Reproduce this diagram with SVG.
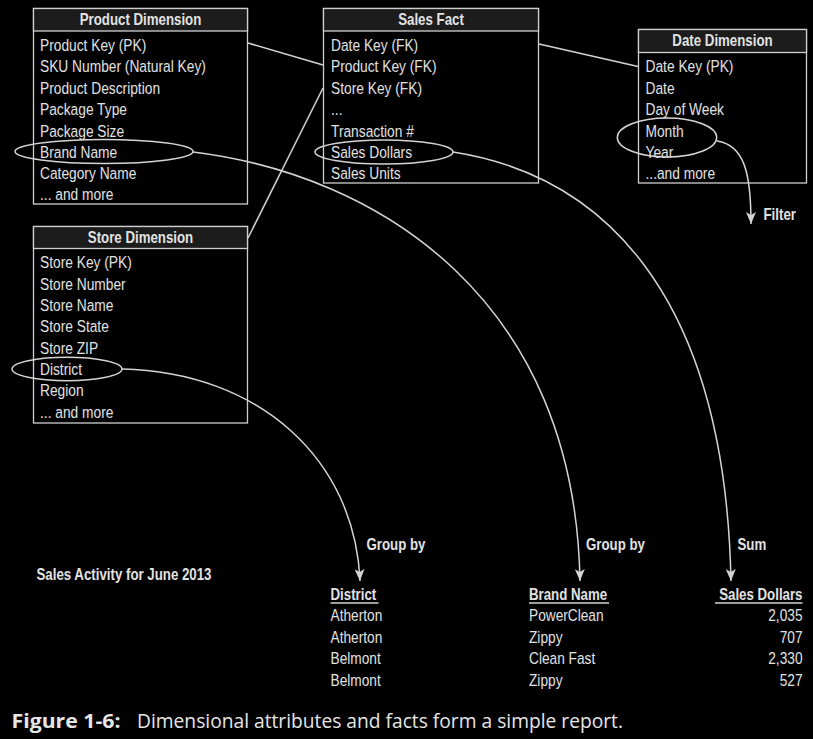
<svg xmlns="http://www.w3.org/2000/svg" width="813" height="739" viewBox="0 0 813 739">
<style>
.bg{fill:#000}
.box{fill:none;stroke:#cfcfcf;stroke-width:1.3}
.hdr{fill:#1c1c1c;stroke:#cfcfcf;stroke-width:1.3}
.t{font-family:"Liberation Sans",Arial,sans-serif;font-size:16.5px;fill:#e2e2e2}
.h{font-family:"Liberation Sans",Arial,sans-serif;font-size:16px;font-weight:bold;fill:#e2e2e2;text-anchor:middle}
.b{font-family:"Liberation Sans",Arial,sans-serif;font-size:16px;font-weight:bold;fill:#e2e2e2}
.ln{fill:none;stroke:#d4d4d4;stroke-width:1.5}
.ell{fill:none;stroke:#d4d4d4;stroke-width:1.5}
.ul{stroke:#d4d4d4;stroke-width:1.3}
.cap{font-family:"Open Sans","Noto Sans",sans-serif;fill:#e6e6e6}
</style>
<defs>
<marker id="arr" markerUnits="userSpaceOnUse" markerWidth="12" markerHeight="10" refX="12" refY="5" orient="auto">
<path d="M0,0 L12,5 L0,10 L3,5 Z" fill="#d4d4d4"/>
</marker>
</defs>
<rect class="bg" x="0" y="0" width="813" height="739"/>

<g id="connectors">
<line class="ln" x1="248" y1="43" x2="323" y2="65"/>
<line class="ln" x1="248" y1="238" x2="323" y2="88"/>
<line class="ln" x1="539" y1="44" x2="638" y2="66.5"/>
<path class="ln" d="M193,152 C380,175 575,300 580,581" marker-end="url(#arr)"/>
<path class="ln" d="M453,152 C600,175 725,290 731,581" marker-end="url(#arr)"/>
<path class="ln" d="M122,369 C260,372 355,460 360,581" marker-end="url(#arr)"/>
<path class="ln" d="M717,141 C745,145 751,175 751,224" marker-end="url(#arr)"/>
</g>

<g id="product-dimension">
<rect class="box" x="33.5" y="8.5" width="214" height="195.5"/>
<rect class="hdr" x="33.5" y="8.5" width="214" height="22.5"/>
<g transform="translate(140.5,0) scale(0.83,1)"><text class="h" x="0" y="25.5">Product Dimension</text></g>
<g transform="translate(40,0) scale(0.834,1)">
<text class="t" x="0" y="51">Product Key (PK)</text>
<text class="t" x="0" y="72.5">SKU Number (Natural Key)</text>
<text class="t" x="0" y="94">Product Description</text>
<text class="t" x="0" y="115">Package Type</text>
<text class="t" x="0" y="137">Package Size</text>
<text class="t" x="0" y="158">Brand Name</text>
<text class="t" x="0" y="179.5">Category Name</text>
<text class="t" x="0" y="200.5">... and more</text>
</g>
<ellipse class="ell" cx="104" cy="151.5" rx="89" ry="12"/>
</g>

<g id="sales-fact">
<rect class="box" x="323.5" y="8.5" width="215" height="174.5"/>
<rect class="hdr" x="323.5" y="8.5" width="215" height="22.5"/>
<g transform="translate(431,0) scale(0.83,1)"><text class="h" x="0" y="25.5">Sales Fact</text></g>
<g transform="translate(331,0) scale(0.834,1)">
<text class="t" x="0" y="51">Date Key (FK)</text>
<text class="t" x="0" y="72.5">Product Key (FK)</text>
<text class="t" x="0" y="94">Store Key (FK)</text>
<text class="t" x="0" y="115">...</text>
<text class="t" x="0" y="137">Transaction #</text>
<text class="t" x="0" y="158">Sales Dollars</text>
<text class="t" x="0" y="179.5">Sales Units</text>
</g>
<ellipse class="ell" cx="384" cy="152" rx="69" ry="12"/>
</g>

<g id="date-dimension">
<rect class="box" x="638.5" y="29.5" width="168" height="153.5"/>
<rect class="hdr" x="638.5" y="29.5" width="168" height="23"/>
<g transform="translate(722.5,0) scale(0.83,1)"><text class="h" x="0" y="46.5">Date Dimension</text></g>
<g transform="translate(645.5,0) scale(0.834,1)">
<text class="t" x="0" y="72.5">Date Key (PK)</text>
<text class="t" x="0" y="94">Date</text>
<text class="t" x="0" y="115">Day of Week</text>
<text class="t" x="0" y="137">Month</text>
<text class="t" x="0" y="158">Year</text>
<text class="t" x="0" y="179.5">...and more</text>
</g>
<ellipse class="ell" cx="667" cy="137.5" rx="49.7" ry="19.5"/>
</g>

<g id="store-dimension">
<rect class="box" x="33.5" y="226.5" width="214" height="196.5"/>
<rect class="hdr" x="33.5" y="226.5" width="214" height="22"/>
<g transform="translate(140.5,0) scale(0.83,1)"><text class="h" x="0" y="243.5">Store Dimension</text></g>
<g transform="translate(40,0) scale(0.834,1)">
<text class="t" x="0" y="268.5">Store Key (PK)</text>
<text class="t" x="0" y="290">Store Number</text>
<text class="t" x="0" y="311">Store Name</text>
<text class="t" x="0" y="332.5">Store State</text>
<text class="t" x="0" y="354">Store ZIP</text>
<text class="t" x="0" y="375">District</text>
<text class="t" x="0" y="396.5">Region</text>
<text class="t" x="0" y="418">... and more</text>
</g>
<ellipse class="ell" cx="67" cy="369" rx="55" ry="11.7"/>
</g>

<g id="labels">
<g transform="translate(763.5,0) scale(0.83,1)"><text class="b" x="0" y="220">Filter</text></g>
<g transform="translate(366.5,0) scale(0.83,1)"><text class="b" x="0" y="550">Group by</text></g>
<g transform="translate(586,0) scale(0.83,1)"><text class="b" x="0" y="550">Group by</text></g>
<g transform="translate(737.5,0) scale(0.83,1)"><text class="b" x="0" y="550">Sum</text></g>
<g transform="translate(36.5,0) scale(0.83,1)"><text class="b" x="0" y="580">Sales Activity for June 2013</text></g>
</g>

<g id="report">
<g transform="translate(330.5,0) scale(0.83,1)">
<text class="b" x="0" y="600">District</text>
<text class="t" x="0" y="621.5">Atherton</text>
<text class="t" x="0" y="643">Atherton</text>
<text class="t" x="0" y="664.5">Belmont</text>
<text class="t" x="0" y="686">Belmont</text>
</g>
<line class="ul" x1="330.5" y1="603" x2="378.5" y2="603"/>
<g transform="translate(529,0) scale(0.83,1)">
<text class="b" x="0" y="600">Brand Name</text>
<text class="t" x="0" y="621.5">PowerClean</text>
<text class="t" x="0" y="643">Zippy</text>
<text class="t" x="0" y="664.5">Clean Fast</text>
<text class="t" x="0" y="686">Zippy</text>
</g>
<line class="ul" x1="529" y1="603" x2="609" y2="603"/>
<g transform="translate(802.5,0) scale(0.83,1)">
<text class="b" x="0" y="600" text-anchor="end" font-size="16.8">Sales Dollars</text>
<text class="t" x="0" y="621.5" text-anchor="end">2,035</text>
<text class="t" x="0" y="643" text-anchor="end">707</text>
<text class="t" x="0" y="664.5" text-anchor="end">2,330</text>
<text class="t" x="0" y="686" text-anchor="end">527</text>
</g>
<line class="ul" x1="715" y1="603" x2="802.5" y2="603"/>
</g>

<g id="caption">
<text class="cap" x="11.5" y="728" font-size="20" font-weight="bold" textLength="109" lengthAdjust="spacingAndGlyphs">Figure 1-6:</text>
<text class="cap" x="137" y="728" font-size="19.3" textLength="486" lengthAdjust="spacingAndGlyphs">Dimensional attributes and facts form a simple report.</text>
</g>
</svg>
